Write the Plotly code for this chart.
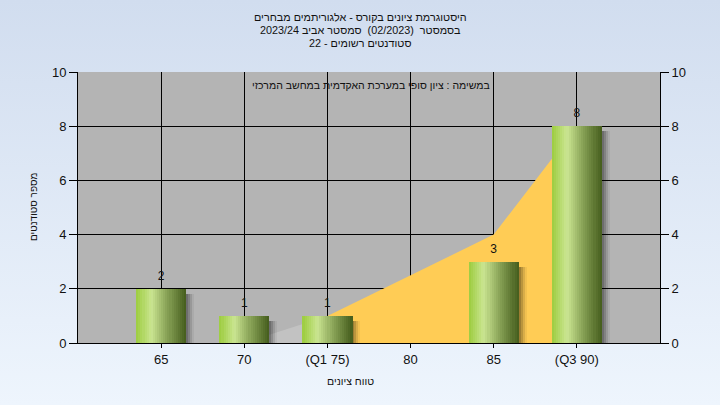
import base64
import plotly.graph_objects as go

# ---------------- data ----------------
tick_labels = ["65", "70", "(Q1 75)", "80", "85", "(Q3 90)"]
bar_categories = ["65", "70", "(Q1 75)", "85", "(Q3 90)"]
bar_counts = [2, 1, 1, 3, 8]
outer_area_categories = ["70", "(Q1 75)"]
outer_area_values = [0, 1]
inner_area_categories = ["(Q1 75)", "80", "85", "(Q3 90)"]
inner_area_values = [1, 2.5, 4, 8]
y_ticks = [0, 2, 4, 6, 8, 10]

title_lines = [
    "היסטוגרמת ציונים בקורס - אלגוריתמים מבחרים",
    "בסמסטר  (02/2023)  סמסטר אביב 2023/24",
    "סטודנטים רשומים - 22",
]
inner_note = "במשימה : ציון סופי במערכת האקדמית במחשב המרכזי"
x_title = "טווח ציונים"
y_title = "מספר סטודנטים"

# ---------------- geometry / style ----------------
W, H = 720, 405
PL, PR, PT, PB = 78, 660, 72, 343
FONT = "Liberation Sans, Arial, sans-serif"
xd = [PL / W, PR / W]
yd = [1 - PB / H, 1 - PT / H]
px_per_unit = (PR - PL) / 7.0
py_per_unit = (PB - PT) / 10.0

BAR_W = 0.6
N_STRIPS = 24
stops = [
    (0.00, (156, 204, 62)),
    (0.30, (202, 229, 145)),
    (0.62, (136, 162, 86)),
    (1.00, (68, 92, 28)),
]


def grad(t):
    for (t0, c0), (t1, c1) in zip(stops[:-1], stops[1:]):
        if t0 <= t <= t1:
            f = (t - t0) / (t1 - t0)
            return "rgb(%d,%d,%d)" % tuple(round(a + (b - a) * f) for a, b in zip(c0, c1))
    return "rgb(%d,%d,%d)" % stops[-1][1]


fig = go.Figure()

# areas (base subplot x/y, drawn beneath the bars)
fig.add_trace(go.Scatter(
    x=outer_area_categories, y=outer_area_values, mode="lines", fill="tozeroy",
    line=dict(width=0, color="#c2c2c2"), fillcolor="#c2c2c2", hoverinfo="skip",
    xaxis="x", yaxis="y"))
fig.add_trace(go.Scatter(
    x=inner_area_categories, y=inner_area_values, mode="lines", fill="tozeroy",
    line=dict(width=0, color="#ffcc55"), fillcolor="#ffcc55", hoverinfo="skip",
    xaxis="x", yaxis="y"))

# bar shadows (soft) on overlay axis
shadow_drop = 5 / py_per_unit
shadow_y = [v - shadow_drop for v in bar_counts]
for k, a in [(2, 0.16), (4, 0.14), (6, 0.10), (8, 0.05)]:
    fig.add_trace(go.Bar(
        x=bar_categories, y=shadow_y, width=BAR_W, offset=-BAR_W / 2 + k / px_per_unit,
        marker=dict(color="rgba(0,0,0,%.2f)" % a, line=dict(width=0)), hoverinfo="skip",
        xaxis="x", yaxis="y2"))

# gradient bars made of vertical strips
sw = BAR_W / N_STRIPS
for i in range(N_STRIPS):
    t = (i + 0.5) / N_STRIPS
    fig.add_trace(go.Bar(
        x=bar_categories, y=bar_counts, width=sw * 1.08, offset=-BAR_W / 2 + i * sw,
        marker=dict(color=grad(t), line=dict(width=0)), hoverinfo="skip",
        xaxis="x", yaxis="y2"))

# value labels
fig.add_trace(go.Scatter(
    x=bar_categories, y=bar_counts, mode="text+markers", text=[str(v) for v in bar_counts],
    textposition="top center", marker=dict(size=8, opacity=0),
    textfont=dict(family=FONT, size=12, color="#111111"), hoverinfo="skip",
    xaxis="x", yaxis="y2"))

# background gradient image
svg = (
    '<svg xmlns="http://www.w3.org/2000/svg" width="720" height="405">'
    '<defs><linearGradient id="g" x1="0" y1="0" x2="0" y2="1">'
    '<stop offset="0" stop-color="#d1ddef"/><stop offset="1" stop-color="#eef5fd"/>'
    '</linearGradient></defs><rect width="720" height="405" fill="url(#g)"/></svg>'
)
src = "data:image/svg+xml;base64," + base64.b64encode(svg.encode()).decode()

axis_font = dict(family=FONT, size=13, color="#111111")

fig.update_layout(
    template="none",
    width=W, height=H, margin=dict(l=0, r=0, t=0, b=0, pad=0, autoexpand=False),
    paper_bgcolor="#e0e9f6", plot_bgcolor="rgba(0,0,0,0)",
    barmode="overlay", showlegend=False, bargap=0,
    font=dict(family=FONT, size=12, color="#111111"),
    images=[dict(source=src, xref="paper", yref="paper", x=0, y=1, sizex=1, sizey=1,
                 sizing="stretch", layer="below", xanchor="left", yanchor="top")],
    shapes=[dict(type="rect", xref="x domain", yref="y domain", x0=0, x1=1, y0=0, y1=1,
                 fillcolor="#b4b4b4", line=dict(width=0), layer="below")],
    xaxis=dict(
        domain=xd, type="category", categoryorder="array", categoryarray=tick_labels,
        range=[-1, 6], showgrid=True, gridcolor="#000000", gridwidth=1,
        showline=True, linecolor="#000000", linewidth=1, automargin=False,
        ticks="outside", ticklen=4, tickcolor="#000000", tickfont=axis_font,
        zeroline=False, fixedrange=True, anchor="y"),
    yaxis=dict(
        domain=yd, range=[0, 10], tickvals=y_ticks, showgrid=True, gridcolor="#000000",
        gridwidth=1, showline=True, linecolor="#000000", linewidth=1, automargin=False,
        ticks="outside", ticklen=8, tickcolor="#000000", tickfont=axis_font,
        zeroline=False, fixedrange=True, anchor="x"),
    yaxis2=dict(
        overlaying="y", side="right", anchor="x", range=[0, 10], tickvals=y_ticks,
        showgrid=False, showline=True, linecolor="#000000", linewidth=1, automargin=False,
        ticks="outside", ticklen=8, tickcolor="#000000", tickfont=axis_font,
        zeroline=False, fixedrange=True),
)

annotations = []
for line, py in zip(title_lines, [17, 30.5, 43.5]):
    annotations.append(dict(text=line, xref="paper", yref="paper", x=360 / W, y=1 - py / H,
                            showarrow=False, xanchor="center", yanchor="middle",
                            font=dict(family=FONT, size=10.8, color="#111111")))
annotations.append(dict(text=inner_note, xref="paper", yref="paper", x=371 / W, y=1 - 85 / H,
                        showarrow=False, xanchor="center", yanchor="middle",
                        font=dict(family=FONT, size=10.5, color="#111111")))
annotations.append(dict(text=x_title, xref="paper", yref="paper", x=350 / W, y=1 - 381 / H,
                        showarrow=False, xanchor="center", yanchor="middle",
                        font=dict(family=FONT, size=10.5, color="#111111")))
annotations.append(dict(text=y_title, xref="paper", yref="paper", x=34 / W, y=1 - 207 / H,
                        showarrow=False, xanchor="center", yanchor="middle", textangle=-90,
                        font=dict(family=FONT, size=10, color="#111111")))
fig.update_layout(annotations=annotations)

post = (
    "document.documentElement.style.margin='0';"
    "document.body.style.margin='0';document.body.style.padding='0';"
    "document.body.style.overflow='hidden';"
)
fig.write_html("out.html", config=dict(displayModeBar=False), post_script=post)
